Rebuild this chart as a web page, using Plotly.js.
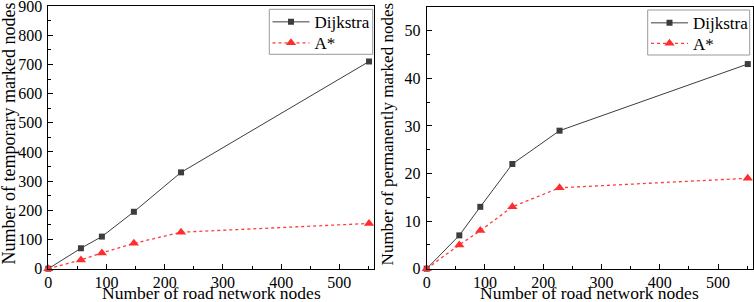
<!DOCTYPE html>
<html>
<head>
<meta charset="utf-8">
<script src="https://cdn.plot.ly/plotly-3.0.1.min.js"></script>
<style>html,body{margin:0;padding:0;background:#fff}#chart{width:754px;height:302px}</style>
</head>
<body>
<div id="chart"></div>
<script>
const nodes = [0, 56, 92, 147, 228, 551];
const dijkstraTemporary = [0, 70, 110, 195, 330, 710];
const aStarTemporary = [0, 30, 54, 87, 125, 155];
const dijkstraPermanent = [0, 7, 13, 22, 29, 43];
const aStarPermanent = [0, 5, 8, 13, 17, 19];
const seriesNames = ["Dijkstra", "A*"];
const xTitle = "Number of road network nodes";
const yTitleLeft = "Number of temporary marked nodes";
const yTitleRight = "Number of permanently marked nodes";

const FONT = "Liberation Serif";
const W = 754, H = 302;
const darkStyle = {
  mode: "lines+markers", cliponaxis: false,
  line: {color: "#3d3d3d", width: 1},
  marker: {symbol: "square", size: 6, color: "#3d3d3d"}
};
const redStyle = {
  mode: "lines+markers", cliponaxis: false,
  line: {color: "#ff3a3a", width: 1.3, dash: "dot"},
  marker: {symbol: "triangle-up", size: 9, color: "#ff2d2d"}
};

const traces = [
  Object.assign({x: nodes, y: dijkstraTemporary, name: seriesNames[0], xaxis: "x", yaxis: "y", legend: "legend"}, darkStyle),
  Object.assign({x: nodes, y: aStarTemporary, name: seriesNames[1], xaxis: "x", yaxis: "y", legend: "legend2"}, redStyle),
  Object.assign({x: nodes, y: dijkstraPermanent, name: seriesNames[0], xaxis: "x2", yaxis: "y2", legend: "legend3"}, darkStyle),
  Object.assign({x: nodes, y: aStarPermanent, name: seriesNames[1], xaxis: "x2", yaxis: "y2", legend: "legend4"}, redStyle)
];

function xAxis(domain, anchor) {
  return {
    domain: domain, anchor: anchor, range: [0, 560], dtick: 100, tick0: 0,
    showgrid: false, zeroline: false, showline: true, mirror: true,
    linecolor: "#000", linewidth: 1,
    ticks: "inside", ticklen: 5, tickcolor: "#000", tickwidth: 1,
    minor: {dtick: 50, ticks: "inside", ticklen: 3, tickcolor: "#000"},
    tickfont: {family: FONT, size: 16, color: "#000"},
    ticklabeloverflow: "allow", ticklabelstandoff: -1,
    automargin: false
  };
}
function yAxis(domain, anchor, range, dtick, minorDtick) {
  return {
    domain: domain, anchor: anchor, range: range, dtick: dtick, tick0: 0,
    showgrid: false, zeroline: false, showline: true, mirror: true,
    linecolor: "#000", linewidth: 1,
    ticks: "inside", ticklen: 5, tickcolor: "#000", tickwidth: 1,
    minor: {dtick: minorDtick, ticks: "inside", ticklen: 3, tickcolor: "#000"},
    tickfont: {family: FONT, size: 16, color: "#000"},
    ticklabeloverflow: "allow", ticklabelstandoff: 2,
    automargin: false
  };
}

function legendAt(px, py) {
  return {
    x: px / W, y: 1 - py / H, xanchor: "left", yanchor: "middle",
    bgcolor: "rgba(0,0,0,0)", borderwidth: 0, itemwidth: 37,
    font: {family: FONT, size: 17, color: "#000"}
  };
}

function titleAnn(text, x, y, opts) {
  return Object.assign({
    text: text, x: x, y: y, xref: "paper", yref: "paper", showarrow: false,
    font: {family: FONT, size: 18, color: "#000"}
  }, opts);
}

function boxShape(x0, y0, x1, y1) {
  return {
    type: "rect", xref: "paper", yref: "paper", layer: "below",
    x0: x0 / W, x1: x1 / W, y0: 1 - y1 / H, y1: 1 - y0 / H,
    line: {color: "#9a9a9a", width: 1}, fillcolor: "#fff"
  };
}

const xTitleFont = {family: FONT, size: 17.5, color: "#000"};

const layout = {
  width: W, height: H,
  margin: {l: 0, r: 0, t: 0, b: 0, pad: 0},
  paper_bgcolor: "#fff", plot_bgcolor: "rgba(0,0,0,0)",
  font: {family: FONT, color: "#000"},
  xaxis: xAxis([0.0641, 0.4964], "y"),
  yaxis: yAxis([0.1103, 0.980], "x", [0, 900], 100, 50),
  xaxis2: xAxis([0.5659, 0.9987], "y2"),
  yaxis2: yAxis([0.1103, 0.977], "x2", [0, 55], 10, 5),
  legend: legendAt(267.5, 22.3),
  legend2: legendAt(267.5, 43.3),
  legend3: legendAt(646, 23.3),
  legend4: legendAt(646, 43.8),
  showlegend: true,
  shapes: [
    boxShape(269.3, 9.3, 372.7, 54.3),
    boxShape(647.7, 10, 749.7, 55)
  ],
  annotations: [
    titleAnn(xTitle, 0.2803, 0, {xanchor: "center", yanchor: "bottom", yshift: -3, font: xTitleFont}),
    titleAnn(xTitle, 0.7823, 0, {xanchor: "center", yanchor: "bottom", yshift: -3, font: xTitleFont}),
    titleAnn(yTitleLeft, 9 / W, 0.558, {xanchor: "center", yanchor: "middle", textangle: -90}),
    titleAnn(yTitleRight, 387 / W, 0.555, {xanchor: "center", yanchor: "middle", textangle: -90, font: {family: FONT, size: 17, color: "#000"}})
  ]
};

Plotly.newPlot("chart", traces, layout, {staticPlot: true, displayModeBar: false});
</script>
</body>
</html>
